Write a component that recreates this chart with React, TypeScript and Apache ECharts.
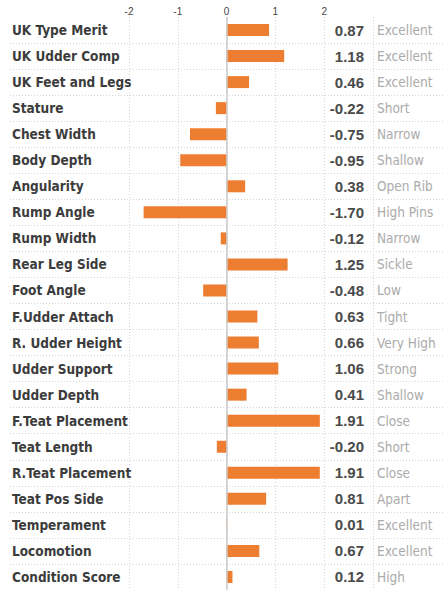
import React, { useEffect, useRef } from "react";
import * as echarts from "echarts";

const traits = ['UK Type Merit','UK Udder Comp','UK Feet and Legs','Stature','Chest Width','Body Depth','Angularity','Rump Angle','Rump Width','Rear Leg Side','Foot Angle','F.Udder Attach','R. Udder Height','Udder Support','Udder Depth','F.Teat Placement','Teat Length','R.Teat Placement','Teat Pos Side','Temperament','Locomotion','Condition Score'];
const values = [0.87,1.18,0.46,-0.22,-0.75,-0.95,0.38,-1.70,-0.12,1.25,-0.48,0.63,0.66,1.06,0.41,1.91,-0.20,1.91,0.81,0.01,0.67,0.12];
const descriptors = ['Excellent','Excellent','Excellent','Short','Narrow','Shallow','Open Rib','High Pins','Narrow','Sickle','Low','Tight','Very High','Strong','Shallow','Close','Short','Close','Apart','Excellent','Excellent','High'];
const tickLabels = ['-2','-1','0','1','2'];

const NARROW = '"DejaVu Sans Condensed", "DejaVu Sans", sans-serif';
const WIDE = '"Liberation Sans", Arial, sans-serif';

export default function App() {
  const ref = useRef<HTMLDivElement>(null);
  useEffect(() => {
    const chart = echarts.init(ref.current!, null, { renderer: "svg" });
    const valueLabels = values.map((v) => v.toFixed(2));
    chart.setOption({
      animation: false,
      grid: [
        { left: 129, right: 70, top: 17, height: 577 },
        { left: 10, right: 0, top: 17, height: 577 },
      ],
      xAxis: [
        {
          gridIndex: 0,
          type: "value",
          position: "top",
          min: -2,
          max: 3,
          interval: 1,
          axisLine: { show: false },
          axisTick: { show: false },
          axisLabel: {
            margin: 1,
            fontSize: 10,
            color: "#444",
            fontFamily: WIDE,
            formatter: (v: number) => {
              const s = String(Math.round(v));
              return tickLabels.includes(s) ? s : "";
            },
          },
          splitLine: { show: true, lineStyle: { color: "#d4d4d4", type: [1, 2], width: 1 } },
        },
        {
          gridIndex: 1,
          type: "value",
          min: 0,
          max: 1,
          show: false,
        },
      ],
      yAxis: [
        {
          gridIndex: 0,
          type: "category",
          data: traits,
          inverse: true,
          position: "left",
          axisLine: { show: false },
          axisTick: { show: false },
          splitLine: { show: false },
          axisLabel: {
            align: "left",
            margin: 117,
            fontSize: 13.5,
            fontWeight: "bold",
            color: "#3c3c3c",
            fontFamily: NARROW,
          },
        },
        {
          gridIndex: 0,
          type: "category",
          data: valueLabels,
          inverse: true,
          position: "right",
          axisLine: { show: false },
          axisTick: { show: false },
          splitLine: { show: false },
          axisLabel: {
            inside: true,
            align: "right",
            margin: 9,
            fontSize: 15,
            fontWeight: "bold",
            color: "#4a4a4a",
            fontFamily: WIDE,
          },
        },
        {
          gridIndex: 0,
          type: "category",
          data: descriptors,
          inverse: true,
          position: "right",
          axisLine: { show: false },
          axisTick: { show: false },
          splitLine: { show: false },
          axisLabel: {
            align: "left",
            margin: 4,
            fontSize: 13.5,
            color: "#ababab",
            fontFamily: NARROW,
          },
        },
        {
          gridIndex: 1,
          type: "category",
          data: traits,
          inverse: true,
          axisLine: { show: false },
          axisTick: { show: false },
          axisLabel: { show: false },
          splitLine: {
            show: true,
            showMinLine: false,
            lineStyle: { color: "#d4d4d4", type: [1, 2], width: 1 },
          },
        },
      ],
      series: [
        {
          type: "bar",
          xAxisIndex: 0,
          yAxisIndex: 0,
          data: values,
          barWidth: 12,
          itemStyle: { color: "#ED7D31" },
          markLine: {
            silent: true,
            symbol: "none",
            label: { show: false },
            lineStyle: { color: "#c8c8c8", type: "solid", width: 1.5 },
            data: [{ xAxis: 0 }],
          },
        },
      ],
    });
    return () => chart.dispose();
  }, []);
  return (
    <div
      ref={ref}
      style={{ position: "fixed", left: 0, top: 0, width: 443, height: 590, background: "#fff" }}
    />
  );
}
